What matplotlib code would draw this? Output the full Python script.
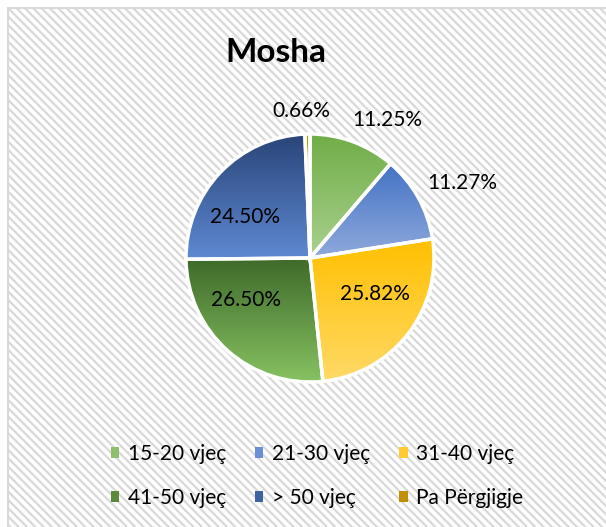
import numpy as np
import matplotlib.pyplot as plt
from matplotlib.patches import Rectangle, Patch
from matplotlib.colors import LinearSegmentedColormap

plt.rcParams['font.family'] = ['Lato', 'DejaVu Sans']
plt.rcParams['hatch.linewidth'] = 1.6
plt.rcParams['hatch.color'] = '#E3E3E3'

# data
categories = ['15-20 vjeç', '21-30 vjeç', '31-40 vjeç', '41-50 vjeç', '> 50 vjeç', 'Pa Përgjigje']
shares = [11.25, 11.27, 25.82, 26.50, 24.50, 0.66]

# gradient colours (top, bottom) for each slice
top_colors = ['#70AD47', '#4472C4', '#FFC000', '#3F6A2A', '#294478', '#BF9000']
bottom_colors = ['#A9D18E', '#8FAADC', '#FFD966', '#86C262', '#5E89D2', '#BF9000']
legend_colors = ['#8CC06A', '#6A8FD2', '#FFCB33', '#5A8A3C', '#3F62A3', '#BF9000']

# label placement: radius (x R) and angle tweak (deg)
label_r = [1.28, 1.37, 0.60, 0.62, 0.62, 1.19]
label_dang = [-9, -3, 9, -15, 11, 2]

fig = plt.figure(figsize=(6.06, 5.27), dpi=100)
fig.patch.set_facecolor('white')

# striped chart background
bg = fig.add_axes([0, 0, 1, 1])
bg.set_xlim(0, 606)
bg.set_ylim(527, 0)
bg.axis('off')
bg.add_patch(Rectangle((7.5, 7.5), 610, 530, facecolor='white', edgecolor='#D9D9D9',
                       lw=1.5, hatch='\\\\\\\\'))

bg.text(276, 53, 'Mosha', fontsize=24, fontweight='bold', ha='center', va='center')

# pie
R = 124
cx, cy = 310, 258
ax = fig.add_axes([(cx - R) / 606, (527 - cy - R) / 527, 2 * R / 606, 2 * R / 527])
wedges, _ = ax.pie(shares, startangle=90, counterclock=False, radius=1,
                   wedgeprops=dict(edgecolor='white', linewidth=2.5))
ax.set_aspect('equal')
ax.axis('off')

for i, w in enumerate(wedges):
    cmap = LinearSegmentedColormap.from_list('g%d' % i, [bottom_colors[i], top_colors[i]])
    bb = w.get_path().get_extents(w.get_patch_transform())
    grad = np.linspace(0, 1, 256).reshape(-1, 1)
    im = ax.imshow(grad, cmap=cmap, origin='lower', aspect='auto',
                   extent=[bb.x0, bb.x1, bb.y0, bb.y1], zorder=w.get_zorder() - 0.1)
    im.set_clip_path(w)
    w.set_facecolor('none')
    w.set_zorder(3)

ax.set_xlim(-1, 1)
ax.set_ylim(-1, 1)

for i, w in enumerate(wedges):
    mid = (w.theta1 + w.theta2) / 2 + label_dang[i]
    a = np.deg2rad(mid)
    ax.text(label_r[i] * np.cos(a), label_r[i] * np.sin(a), '%.2f%%' % shares[i],
            fontsize=15, ha='center', va='center', zorder=5)

# legend (row-major order via column-major filling)
handles = [Patch(facecolor=c, edgecolor='none') for c in legend_colors]
order = [0, 3, 1, 4, 2, 5]
fig.legend([handles[k] for k in order], [categories[k] for k in order],
           ncol=3, loc='center', bbox_to_anchor=(317 / 606, 1 - 476 / 527),
           frameon=False, fontsize=15, handlelength=0.4, handleheight=0.4,
           handletextpad=0.4, columnspacing=1.4, labelspacing=1.15)

plt.savefig('out.png', dpi=100)
